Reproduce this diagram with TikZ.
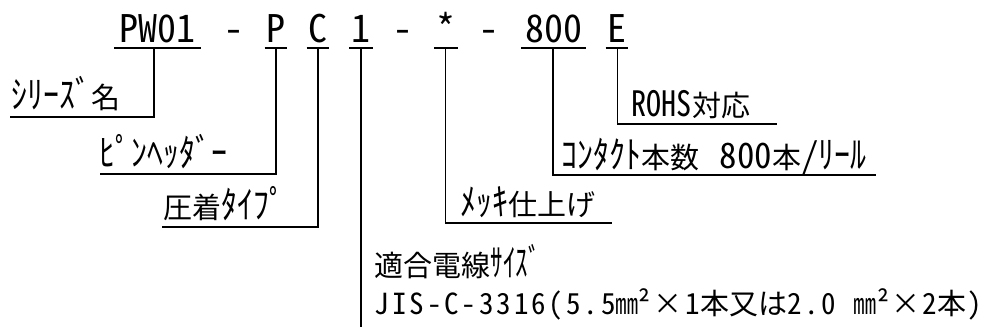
\documentclass[tikz,border=0pt]{standalone}
\usepackage{fontspec}
\setmainfont{Noto Sans CJK JP}
\newfontfamily\latf{Noto Sans CJK JP}[RawFeature=+hwid]
\newfontfamily\jisf{Noto Sans CJK JP}[RawFeature=+hwid,LetterSpace=10]
\newcommand\hk[1]{\scalebox{1.1}[1.3]{#1}}
\newcommand\hkn[1]{\scalebox{0.86}[1.3]{#1}}
\newcommand\latl{\latf\fontsize{35}{35}\selectfont}
\begin{document}
\begin{tikzpicture}[x=1pt,y=-1pt,line width=1.6pt,
  tok/.style={inner sep=0pt,anchor=base,minimum width=#1,font=\latf\fontsize{38}{40}\selectfont},
  tok/.default=10pt,
  lbl/.style={inner sep=0pt,anchor=base west,font=\fontsize{29}{31}\selectfont},
  ulin/.style={line width=1.6pt},
  conn/.style={line width=1.6pt}]
\useasboundingbox (0,0) rectangle (987,329);
% code tokens
\node[tok=85pt] (pw) at (157.5,43) {PW01};
\node[tok] (d1) at (234,43) {-};
\node[tok=21pt] (p) at (276,43) {P};
\node[tok=21pt] (c) at (318,43) {C};
\node[tok=22pt] (one) at (361,43) {1};
\node[tok] (d2) at (403,43) {-};
\node[tok=22pt] (star) at (446,43) {*};
\node[tok] (d3) at (489,43) {-};
\node[tok=63pt] (n800) at (553.5,43) {800};
\node[tok=21pt] (e) at (617,43) {E};
\foreach \t in {pw,p,c,one,star,n800,e}
  \draw[ulin] ([yshift=-5pt]\t.base west) -- ([yshift=-5pt]\t.base east);
% connector tops
\coordinate (pwu) at (154,48);
\coordinate (pu) at (276,48);
\coordinate (cu) at (318,48);
\coordinate (oneu) at (361,48);
\coordinate (staru) at (445.5,48);
\coordinate (eightu) at (553,48);
\coordinate (eu) at (617.5,48);
% connector ends
\coordinate (aL) at (10,117);
\coordinate (bL) at (100,174);
\coordinate (cL) at (162,227);
\coordinate (dR) at (612,223);
\coordinate (eR) at (777,124);
\coordinate (fR) at (876,175);
\coordinate (oneB) at (361,327);
% labels
\node[lbl] (la) at (11,108) {\hk{ｼﾘｰｽﾞ}名};
\node[lbl] (lb) at (99,166) {\hk{ﾋﾟﾝﾍｯﾀﾞｰ}};
\node[lbl] (lc) at (163,218) {圧着\hk{ﾀｲﾌﾟ}};
\node[lbl] (ld) at (460,215) {\hk{ﾒｯｷ}仕上げ};
\node[lbl] (le) at (631,116) {\scalebox{0.86}[1]{\latl ROHS}対応};
\node[lbl] (lf) at (561,168) {\hk{ｺﾝﾀｸﾄ}本数\hspace{20pt}{\latl 800}本{\latl /}\hk{ﾘｰﾙ}};
\node[lbl] (lg) at (374,276) {適合電線\hkn{ｻｲｽﾞ}};
\node[lbl] (lh) at (374,314) {{\jisf JIS-C-3316(5.5}\scalebox{0.8}[1]{㎜}²\hspace{3pt}×\hspace{3pt}{\jisf 1}本又は{\jisf 2.0 }\scalebox{0.8}[1]{㎜}²\hspace{3pt}×\hspace{2pt}{\jisf 2}本\hspace{1pt}{\jisf )}};
% connectors
\draw[conn] (pwu) |- (aL);
\draw[conn] (pu) |- (bL);
\draw[conn] (cu) |- (cL);
\draw[conn] (oneu) -- (oneB);
\draw[conn] (staru) |- (dR);
\draw[conn] (eu) |- (eR);
\draw[conn] (eightu) |- (fR);
\end{tikzpicture}
\end{document}
